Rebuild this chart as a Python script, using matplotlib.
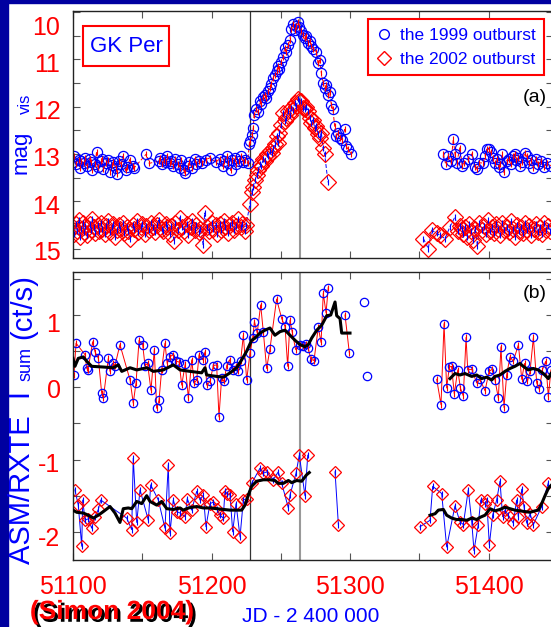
import matplotlib
matplotlib.use("Agg")
import matplotlib.pyplot as plt
from matplotlib.lines import Line2D
from matplotlib.patches import Rectangle
from matplotlib.ticker import MultipleLocator, FormatStrFormatter
from matplotlib.transforms import ScaledTranslation
import matplotlib.patheffects as pe

plt.rcParams['axes.unicode_minus'] = False
plt.rcParams['font.family'] = ['Liberation Sans', 'DejaVu Sans']

blu = "#0000ff"
red = "#ff0000"
navy = "#0000a0"

# ---------------- top panel: visual magnitudes ----------------
# 1999 outburst, quiescence before
jd99_q = [51100, 51101, 51102, 51104, 51105, 51106, 51108, 51109, 51110, 51112,
          51113, 51114, 51116, 51117, 51118, 51120, 51121, 51122, 51124, 51125,
          51127, 51128, 51129, 51131, 51132, 51133, 51135, 51136, 51138, 51139,
          51141, 51143, 51144, 51153, 51155, 51162, 51163, 51164, 51166, 51167,
          51168, 51170, 51171, 51172, 51174, 51176, 51177, 51178, 51180, 51181,
          51183, 51184, 51186, 51188, 51189, 51191, 51193, 51196, 51199, 51203,
          51206, 51208, 51209, 51211, 51212, 51214, 51215, 51217, 51218, 51220,
          51221, 51223, 51224, 51226]
mag99_q = [13.18, 13.05, 13.22, 13.12, 13.30, 13.15, 13.20, 13.08, 13.25, 13.10,
           13.18, 13.35, 13.22, 12.95, 13.28, 13.15, 13.10, 13.32, 13.20, 13.12,
           13.38, 13.24, 13.18, 13.30, 13.42, 13.15, 13.22, 13.05, 13.35, 13.28,
           13.12, 13.25, 13.30, 13.00, 13.20, 13.15, 13.08, 13.22, 13.12, 13.18,
           13.05, 13.20, 13.15, 13.25, 13.10, 13.22, 13.30, 13.12, 13.35, 13.40,
           13.25, 13.18, 13.30, 13.10, 13.22, 13.15, 13.20, 13.12, 13.08, 13.18,
           13.10, 13.25, 13.15, 13.05, 13.20, 13.35, 13.12, 13.08, 13.22, 13.15,
           13.05, 13.18, 13.12, 13.20]
# 1999 outburst itself
jd99_ob = [51227.3, 51228, 51229, 51230.2, 51230.7, 51232.4, 51233.5, 51234.8, 51236, 51237,
           51238.4, 51239.5, 51240.8, 51242, 51243, 51244.4, 51245.6, 51247, 51248, 51249,
           51250.4, 51251.5, 51252.8, 51254, 51255.3, 51256.5, 51257.7, 51258.9, 51260, 51261.3,
           51262.2, 51263.2, 51264.9, 51266, 51267.3, 51268.5, 51269.7, 51271, 51272.1, 51273.5,
           51275.7, 51276.9, 51278, 51279.3, 51280.5, 51281.7, 51283, 51284.1, 51285.3, 51286.5,
           51287.7, 51288.9, 51290.1, 51291, 51292.5, 51294, 51296.1, 51297.3, 51298.5, 51300.9]
mag99_ob = [12.79, 12.73, 12.60, 12.45, 12.17, 12.06, 12.12, 11.89, 11.95, 11.80,
            11.75, 11.82, 11.68, 11.60, 11.52, 11.40, 11.33, 11.25, 11.15, 11.20,
            11.05, 10.95, 10.77, 10.85, 10.70, 10.60, 10.35, 10.25, 10.38, 10.30,
            10.22, 10.31, 10.40, 10.49, 10.56, 10.50, 10.66, 10.62, 10.73, 10.78,
            10.84, 11.08, 11.02, 11.29, 11.50, 11.61, 11.55, 11.75, 11.70, 11.96,
            12.06, 12.41, 12.62, 12.55, 12.66, 12.70, 12.48, 12.83, 12.90, 13.00]
# 1999 late quiescence
jd99_l = [51367.4, 51369, 51371, 51373, 51374.6, 51375.8, 51377, 51379.4, 51381, 51382.5,
          51385, 51387.9, 51390, 51391.5, 51393.5, 51396, 51397.5, 51398.7, 51400, 51401.5,
          51403, 51404.5, 51406, 51407.5, 51408.5, 51410, 51411, 51413, 51414.5, 51416,
          51417.5, 51419, 51420, 51421.5, 51423, 51424.5, 51426, 51427.5, 51429, 51430.5,
          51432, 51434, 51436, 51438, 51440, 51442, 51445]
mag99_l = [13.00, 13.21, 13.05, 13.15, 12.69, 13.00, 13.19, 12.87, 13.25, 13.19,
           13.10, 13.00, 13.28, 13.32, 13.19, 13.19, 13.05, 12.90, 12.90, 12.97,
           13.08, 13.20, 13.11, 13.28, 13.21, 13.00, 13.39, 13.15, 13.10, 13.22,
           13.05, 13.00, 13.12, 13.08, 13.25, 13.18, 12.98, 13.05, 13.20, 13.12,
           13.30, 13.10, 13.22, 13.15, 13.28, 13.20, 13.25]

# 2002 outburst (shifted onto the same JD axis)
jd02_q = [51100, 51101, 51102, 51103, 51104, 51105, 51106, 51107, 51108, 51109,
          51110, 51112, 51113, 51114, 51115, 51116, 51118, 51119, 51120, 51121,
          51123, 51124, 51125, 51127, 51128, 51129, 51130, 51132, 51133, 51134,
          51136, 51137, 51139, 51140, 51141, 51143, 51144, 51146, 51147, 51149,
          51150, 51152, 51153, 51155, 51156, 51158, 51159, 51161, 51162, 51164,
          51165, 51167, 51168, 51170, 51171, 51173, 51174, 51176, 51177, 51179,
          51180, 51182, 51183, 51185, 51186, 51188, 51189, 51191, 51192, 51194,
          51195, 51197, 51198, 51200, 51201, 51203, 51204, 51206, 51207, 51209,
          51210, 51212, 51213, 51215, 51216, 51218, 51219, 51221, 51222, 51224,
          51225]
mag02_q = [14.55, 14.70, 14.48, 14.62, 14.40, 14.75, 14.58, 14.45, 14.65, 14.52,
           14.72, 14.48, 14.60, 14.38, 14.55, 14.68, 14.50, 14.62, 14.45, 14.58,
           14.70, 14.52, 14.42, 14.65, 14.55, 14.48, 14.75, 14.60, 14.50, 14.58,
           14.45, 14.68, 14.55, 14.62, 14.80, 14.50, 14.58, 14.42, 14.65, 14.55,
           14.48, 14.70, 14.52, 14.60, 14.45, 14.55, 14.66, 14.50, 14.40, 14.58,
           14.62, 14.48, 14.55, 14.70, 14.52, 14.85, 14.45, 14.60, 14.35, 14.55,
           14.62, 14.48, 14.72, 14.55, 14.42, 14.60, 14.50, 14.65, 14.58, 14.92,
           14.25, 14.55, 14.62, 14.45, 14.58, 14.50, 14.70, 14.48, 14.60, 14.42,
           14.55, 14.68, 14.50, 14.45, 14.60, 14.52, 14.38, 14.55, 14.48, 14.62,
           14.50]
jd02_ob = [51227.8, 51229, 51230, 51231.4, 51232.5, 51233.8, 51235, 51236, 51237.4, 51238.5,
           51239.8, 51241, 51242.2, 51243.5, 51244.6, 51246, 51247, 51248, 51249, 51250.4,
           51251.6, 51253, 51254, 51255.2, 51256.5, 51257.6, 51259, 51260, 51261.3, 51262.5,
           51263.5, 51264.9, 51266, 51267.3, 51268.5, 51269.7, 51270.9, 51272.1, 51273.3, 51274.5,
           51275.7, 51276.9, 51278.1, 51279.3, 51280.5, 51281.7, 51284.1]
mag02_ob = [14.05, 13.81, 13.70, 13.56, 13.45, 13.35, 13.21, 13.25, 13.11, 13.15,
            13.00, 13.05, 12.94, 12.98, 12.87, 12.80, 12.62, 12.76, 12.55, 12.38,
            12.13, 12.30, 12.24, 12.10, 12.18, 12.03, 12.08, 11.92, 11.98, 11.85,
            11.88, 11.89, 12.02, 12.06, 12.00, 12.10, 12.24, 12.34, 12.28, 12.45,
            12.40, 12.59, 12.66, 12.55, 12.87, 13.00, 13.60]
jd02_l = [51353, 51356.5, 51359, 51362.6, 51365, 51368.6, 51372, 51375.8, 51378, 51379.5,
          51381, 51381.8, 51383, 51384.5, 51386, 51387.5, 51389, 51390.5, 51392, 51393.5,
          51395, 51396.5, 51398, 51399.5, 51401, 51402.5, 51404, 51405.5, 51407, 51408.5,
          51410, 51411.5, 51413, 51414.5, 51416, 51417.5, 51419, 51420.5, 51422, 51423.5,
          51425, 51426.5, 51428, 51429.5, 51431, 51432.5, 51434, 51435.5, 51437, 51438.5,
          51440, 51441.5, 51443, 51444.5]
mag02_l = [14.79, 15.00, 14.61, 14.68, 14.72, 14.79, 14.55, 14.33, 14.62, 14.52,
           14.58, 14.70, 14.55, 14.75, 14.48, 14.62, 14.82, 14.58, 14.95, 14.45,
           14.60, 14.52, 14.70, 14.40, 14.62, 14.55, 14.68, 14.48, 14.58, 14.72,
           14.45, 14.60, 14.55, 14.65, 14.42, 14.58, 14.75, 14.50, 14.62, 14.55,
           14.68, 14.45, 14.60, 14.52, 14.72, 14.58, 14.48, 14.65, 14.55, 14.70,
           14.45, 14.60, 14.52, 14.62]

# ---------------- bottom panel: ASM/RXTE counts ----------------
xr99_jd = [51100.7, 51102.2, 51108.7, 51109.9, 51110.8, 51114.2, 51115.9, 51118.3, 51120.7, 51121.9,
           51125.5, 51126.7, 51129.1, 51130.3, 51133.9, 51141.2, 51143.5, 51145.5, 51147.7, 51150.3,
           51152.0, 51153.8, 51156.3, 51158.7, 51160.4, 51162.1, 51164.0, 51166.4, 51168.0, 51170.0,
           51172.0, 51174.5, 51176.6, 51178.5, 51181.0, 51183.3, 51185.7, 51187.6, 51189.3, 51191.0,
           51193.6, 51195.3, 51196.5, 51198.9, 51201.3, 51203.7, 51205.4, 51207.3, 51209.0, 51211.0,
           51213.0, 51215.3, 51217.7, 51219.4, 51221.0, 51223.0, 51225.4, 51227.8, 51229.7, 51231.0,
           51233.0, 51235.5, 51237.4, 51239.8, 51242.2, 51247.0, 51250.7, 51253.1, 51255.0, 51256.7,
           51258.3, 51260.8, 51263.9, 51266.3, 51268.0, 51269.9, 51271.6, 51274.0, 51277.1, 51279.1,
           51280.7, 51282.7, 51284.3]
xr99_val = [0.17, 0.61, 0.45, 0.26, 0.24, 0.63, 0.49, 0.40, -0.08, -0.15,
            0.40, 0.22, 0.33, 0.30, 0.59, 0.10, -0.22, 0.06, 0.65, 0.59,
            0.30, 0.33, -0.04, 0.52, -0.29, -0.18, 0.24, 0.61, 0.33, 0.42,
            0.45, 0.36, 0.35, 0.03, 0.32, -0.15, 0.38, 0.06, 0.10, 0.45,
            0.38, 0.49, 0.03, 0.08, 0.30, 0.31, -0.41, 0.13, 0.08, 0.30,
            0.38, 0.24, 0.30, 0.22, 0.36, 0.72, 0.10, 0.47, 0.68, 0.91,
            0.75, 1.14, 0.77, 0.26, 0.53, 1.22, 0.95, 0.84, 0.29, 0.93,
            0.76, 0.52, 0.59, 0.57, 0.60, 0.54, 0.39, 0.37, 0.83, 0.62,
            1.30, 1.03, 1.38]
xr99b_jd = [51296.4, 51299.5]
xr99b_val = [1.00, 0.48]
xr99c_jd = [51310.1, 51312.0]
xr99c_val = [1.18, 0.15]
xr99l_jd = [51362.6, 51365.7, 51367.9, 51369.8, 51371.7, 51373.3, 51375.3, 51377.8, 51379.7, 51381.8,
            51383.8, 51385.0, 51387.9, 51391.5, 51393.9, 51397.5, 51400.4, 51402.8, 51404.7, 51407.1,
            51409.0, 51411.2, 51413.1, 51415.5, 51417.9, 51421.6, 51424.0, 51426.0, 51428.1, 51430.0,
            51432.4, 51434.8, 51436.7, 51438.9, 51441.3, 51443.2, 51445.1]
xr99l_val = [0.11, -0.24, 0.88, -0.01, 0.28, 0.29, -0.09, 0.24, -0.01, -0.12,
             0.69, 0.24, 0.25, 0.06, 0.11, -0.05, 0.22, 0.25, 0.10, -0.15,
             0.56, -0.28, 0.17, 0.42, 0.36, 0.59, 0.11, 0.33, 0.08, 0.22,
             0.69, 0.06, -0.03, 0.24, 0.36, -0.13, 0.24]

rm99_jd = [51100.0, 51101.4, 51103.8, 51107.4, 51109.9, 51113.5, 51121.9, 51129.1, 51132.7, 51135.2,
           51141.2, 51146.0, 51153.2, 51158.0, 51165.2, 51172.4, 51177.3, 51184.5, 51192.9, 51195.3,
           51196.5, 51203.8, 51208.5, 51213.4, 51218.2, 51221.8, 51225.4, 51229.0, 51231.4, 51235.0,
           51238.6, 51242.2, 51245.8, 51249.5, 51253.1, 51256.7, 51260.3, 51263.9, 51267.5, 51269.9,
           51272.3, 51276.0, 51279.6, 51283.2, 51286.1, 51289.2, 51290.4, 51292.8, 51294.0, 51300.0]
rm99_val = [0.40, 0.29, 0.40, 0.42, 0.36, 0.29, 0.28, 0.27, 0.31, 0.22,
            0.27, 0.24, 0.27, 0.22, 0.24, 0.31, 0.24, 0.22, 0.20, 0.27,
            0.17, 0.15, 0.14, 0.20, 0.27, 0.38, 0.50, 0.65, 0.68, 0.75,
            0.79, 0.82, 0.72, 0.77, 0.79, 0.72, 0.65, 0.59, 0.56, 0.59,
            0.68, 0.79, 0.86, 0.99, 1.00, 1.18, 0.99, 0.95, 0.75, 0.75]
rm99l_jd = [51372.2, 51375.8, 51379.4, 51383.0, 51387.9, 51391.5, 51395.1, 51398.7, 51402.3, 51404.7,
            51408.3, 51411.9, 51415.5, 51419.1, 51422.7, 51425.1, 51428.7, 51432.4, 51436.0, 51439.6,
            51443.2, 51445.1]
rm99l_val = [0.12, 0.19, 0.17, 0.19, 0.15, 0.17, 0.12, 0.14, 0.10, 0.15,
             0.17, 0.22, 0.26, 0.29, 0.33, 0.29, 0.24, 0.26, 0.24, 0.19,
             0.12, 0.19]

xr02_jd = [51101.4, 51103.8, 51106.3, 51107.0, 51108.7, 51111.0, 51113.5, 51115.9, 51118.3, 51120.0,
           51138.8, 51142.4, 51143.5, 51146.0, 51148.4, 51154.4, 51156.1, 51161.6, 51166.4, 51168.8,
           51170.0, 51172.4, 51174.9, 51177.3, 51180.9, 51182.5, 51185.7, 51189.3, 51191.7, 51194.1,
           51196.0, 51198.9, 51201.3, 51203.8, 51206.1, 51208.5, 51209.7, 51211.4, 51213.4, 51215.3,
           51217.7, 51220.6, 51223.0, 51225.4, 51229.0, 51235.0, 51237.4, 51239.8, 51244.6, 51248.2,
           51250.7, 51255.5, 51256.7, 51261.0, 51263.4, 51267.5, 51269.5]
xr02_val = [-1.42, -1.63, -2.20, -1.56, -1.84, -1.82, -1.95, -1.79, -1.69, -1.56,
            -1.81, -1.97, -0.98, -1.87, -1.42, -1.84, -1.35, -1.56, -1.95, -1.07,
            -2.02, -1.56, -1.72, -1.74, -1.79, -1.54, -1.70, -1.44, -1.56, -1.49,
            -1.93, -1.61, -1.59, -1.68, -1.77, -1.81, -1.44, -1.47, -1.49, -2.00,
            -1.61, -2.07, -1.56, -1.54, -1.33, -1.12, -1.19, -1.17, -1.28, -1.17,
            -1.33, -1.67, -1.49, -1.19, -0.94, -1.50, -0.94]
xr02b_jd = [51289.2, 51291.6]
xr02b_val = [-1.17, -1.90]
xr02l_jd = [51350.5, 51357.8, 51359.7, 51366.2, 51369.8, 51375.8, 51379.4, 51381.8, 51385.4, 51387.9,
            51389.5, 51392.6, 51394.4, 51397.5, 51398.7, 51400.6, 51403.0, 51405.9, 51408.3, 51410.2,
            51411.9, 51414.3, 51417.9, 51420.3, 51421.5, 51424.0, 51425.6, 51427.6, 51430.0, 51432.4,
            51438.4, 51443.2]
xr02l_val = [-1.93, -1.84, -1.37, -1.47, -2.21, -1.64, -1.86, -1.90, -1.42, -1.86,
             -2.26, -1.90, -1.56, -1.61, -1.56, -2.18, -1.77, -1.56, -1.30, -1.79,
             -1.70, -1.77, -1.88, -1.56, -1.79, -1.41, -1.65, -1.88, -1.75, -1.90,
             -1.65, -1.32]

rm02_jd = [51100.0, 51102.7, 51107.4, 51111.0, 51114.7, 51118.3, 51121.9, 51126.7, 51130.3, 51133.9,
           51136.3, 51139.9, 51142.4, 51146.0, 51149.6, 51153.2, 51155.6, 51160.4, 51164.0, 51167.7,
           51172.4, 51177.3, 51179.6, 51183.3, 51189.3, 51194.1, 51198.9, 51203.8, 51208.5, 51213.4,
           51218.2, 51221.8, 51224.2, 51226.6, 51229.0, 51232.6, 51237.4, 51242.2, 51245.8, 51248.2,
           51251.8, 51255.5, 51257.9, 51261.5, 51265.1, 51268.7, 51270.6]
rm02_val = [-1.70, -1.73, -1.74, -1.77, -1.81, -1.77, -1.72, -1.65, -1.74, -1.87,
            -1.68, -1.67, -1.68, -1.58, -1.61, -1.50, -1.58, -1.63, -1.58, -1.68,
            -1.69, -1.67, -1.70, -1.67, -1.65, -1.67, -1.67, -1.68, -1.69, -1.70,
            -1.70, -1.70, -1.63, -1.49, -1.37, -1.30, -1.28, -1.28, -1.29, -1.33,
            -1.33, -1.29, -1.32, -1.29, -1.30, -1.21, -1.18]
rm02l_jd = [51357.8, 51361.4, 51363.8, 51367.4, 51369.8, 51373.4, 51377.0, 51380.6, 51384.3, 51387.9,
            51391.5, 51393.9, 51397.5, 51401.1, 51404.7, 51408.3, 51411.9, 51415.5, 51419.1, 51422.7,
            51426.4, 51430.0, 51433.6, 51436.0, 51438.4, 51440.8, 51443.2, 51445.1]
rm02l_val = [-1.77, -1.75, -1.70, -1.69, -1.77, -1.81, -1.83, -1.83, -1.84, -1.81,
             -1.83, -1.80, -1.77, -1.68, -1.71, -1.69, -1.66, -1.68, -1.70, -1.71,
             -1.72, -1.73, -1.71, -1.70, -1.61, -1.50, -1.40, -1.36]

# start of the two outbursts (vertical markers)
t_start = [51227.6, 51263.6]
series_labels = ['the 1999 outburst', 'the 2002 outburst']
mag_ticks = [10, 11, 12, 13, 14, 15]
cts_ticks = [-2, -1, 0, 1]

# ---------------- figure ----------------
W, H = 551, 627
fig = plt.figure(figsize=(W / 100, H / 100), dpi=100)

def fx(x):
    return x / W

def fy(y):
    return 1 - y / H

def px_axes(left, top, right, bottom):
    return fig.add_axes([fx(left), fy(bottom), (right - left) / W, (bottom - top) / H])

# slide decoration
fig.patches.append(Rectangle((0, 0), fx(8), 1, transform=fig.transFigure,
                             color=navy, zorder=5))
fig.patches.append(Rectangle((0, fy(3)), 1, 3 / H, transform=fig.transFigure,
                             color=navy, zorder=5))

ax1 = px_axes(73, 11, 553, 258)
ax2 = px_axes(73, 272, 553, 560)
xmax = 51100 + 480 / 1.385

for ax in (ax1, ax2):
    ax.set_xlim(51100, xmax)
    ax.xaxis.set_major_locator(MultipleLocator(100))
    ax.xaxis.set_minor_locator(MultipleLocator(50))
    ax.yaxis.set_minor_locator(MultipleLocator(0.5))
    ax.yaxis.set_major_formatter(FormatStrFormatter('%d'))
    ax.xaxis.set_major_formatter(FormatStrFormatter('%d'))
    ax.tick_params(which='both', direction='in', top=True, right=True,
                   length=5, width=0.8, color='#555555',
                   labelcolor=red, labelsize=18)
    ax.tick_params(axis='y', pad=9)
    ax.tick_params(axis='x', pad=11)
    for s in ax.spines.values():
        s.set_color('#222222')
        s.set_linewidth(1.0)
    ax.axvline(t_start[0], color='#333333', lw=0.9, zorder=1)
    ax.axvline(t_start[1], color='#999999', lw=1.5, zorder=1)

ax1.set_yticks(mag_ticks)
ax1.set_ylim(15.2, 9.98)
ax1.tick_params(labelbottom=False)
ax2.set_yticks(cts_ticks)
ax2.set_ylim(-2.39, 1.595)

# top panel
top99 = [(jd99_q + jd99_ob, mag99_q + mag99_ob), (jd99_l, mag99_l)]
top02 = [(jd02_q + jd02_ob, mag02_q + mag02_ob), (jd02_l, mag02_l)]
for x, y in top02:
    ax1.plot(x, y, color=blu, lw=0.7, ls=(0, (4, 2)), marker='D', ms=8,
             mfc='none', mec=red, mew=0.9)
    ax1.plot(x, y, ls='none', marker='|', ms=4, color=blu, mew=0.8)
for x, y in top99:
    ax1.plot(x, y, color=red, lw=0.7, ls=(0, (4, 2)), marker='o', ms=7.3,
             mfc='none', mec=blu, mew=0.9)
    ax1.plot(x, y, ls='none', marker='|', ms=4, color=red, mew=0.8)

# bottom panel
for x, y in [(xr99_jd, xr99_val), (xr99b_jd, xr99b_val), (xr99l_jd, xr99l_val)]:
    ax2.plot(x, y, color=red, lw=0.7, marker='o', ms=6, mfc='none', mec=blu, mew=0.9)
    ax2.plot(x, y, ls='none', marker='|', ms=5, color=red, mew=0.8)
ax2.plot(xr99c_jd, xr99c_val, ls='none', marker='o', ms=6, mfc='none', mec=blu, mew=0.9)
for x, y in [(xr02_jd, xr02_val), (xr02b_jd, xr02b_val), (xr02l_jd, xr02l_val)]:
    ax2.plot(x, y, color=blu, lw=0.7, marker='D', ms=6.5, mfc='none', mec=red, mew=0.9)
    ax2.plot(x, y, ls='none', marker='|', ms=5, color=blu, mew=0.8)
for x, y in [(rm99_jd, rm99_val), (rm99l_jd, rm99l_val), (rm02_jd, rm02_val), (rm02l_jd, rm02l_val)]:
    ax2.plot(x, y, color='k', lw=2.2, zorder=4)

# nudge y tick labels down a little, like the original
for ax, shifts in ((ax1, [14, 3, 3, 3, 3, 2]), (ax2, [5, 3, 1, 7])):
    for tick, dy in zip(ax.yaxis.get_major_ticks(), shifts):
        off = ScaledTranslation(0, -dy / 100, fig.dpi_scale_trans)
        tick.label1.set_transform(tick.label1.get_transform() + off)

# legend
handles = [Line2D([], [], ls='none', marker='o', ms=7, mfc='none', mec=blu, mew=1),
           Line2D([], [], ls='none', marker='D', ms=7, mfc='none', mec=red, mew=1)]
leg = fig.legend(handles, series_labels, loc='upper right',
                 bbox_to_anchor=(fx(544), fy(19)), frameon=True, fancybox=False,
                 edgecolor=red, framealpha=1, fontsize=12.5, handlelength=0.8,
                 handletextpad=0.5, borderpad=0.5, labelspacing=0.5, borderaxespad=0)
leg.get_frame().set_linewidth(1.5)
for t in leg.get_texts():
    t.set_color(blu)

# GK Per box
fig.patches.append(Rectangle((fx(83), fy(66)), 86 / W, 40 / H, transform=fig.transFigure,
                             facecolor='white', edgecolor=red, lw=1.5, zorder=6))
fig.text(fx(126), fy(46), "GK Per", ha='center', va='center', fontsize=16,
         color=blu, zorder=7)

fig.text(fx(535), fy(97), "(a)", ha='center', va='center', fontsize=14, color='k')
fig.text(fx(535), fy(293), "(b)", ha='center', va='center', fontsize=14, color='k')

# axis labels
fig.text(fx(21), fy(152), "mag", rotation=90, ha='center', va='center',
         fontsize=16, color=blu, zorder=7)
fig.text(fx(25), fy(104), "vis", rotation=90, ha='center', va='center',
         fontsize=12, color=blu, zorder=7)
fig.text(fx(22), fy(477), "ASM/RXTE  I", rotation=90, ha='center', va='center',
         fontsize=21, color=blu, zorder=7)
fig.text(fx(26), fy(364), "sum", rotation=90, ha='center', va='center',
         fontsize=13, color=blu, zorder=7)
fig.text(fx(23), fy(307), "(ct/s)", rotation=90, ha='center', va='center',
         fontsize=21, color=blu, zorder=7)

fig.text(fx(311), fy(616), "JD - 2 400 000", ha='center', va='center',
         fontsize=15, color=blu)
fig.text(fx(112), fy(612), "(Simon 2004)", ha='center', va='center',
         fontsize=19, fontweight='bold', color=red,
         path_effects=[pe.withSimplePatchShadow(offset=(2, -2), shadow_rgbFace='k', alpha=1.0)])

fig.savefig("out.png", dpi=100)
